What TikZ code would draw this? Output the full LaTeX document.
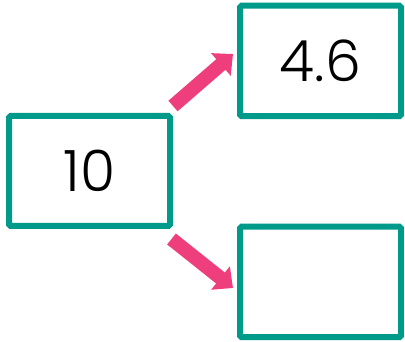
\documentclass[tikz,border=0pt]{standalone}
\usepackage{fontspec}
\setmainfont{Poppins}[UprightFont=* Light]
\usetikzlibrary{arrows.meta}
\definecolor{boxteal}{HTML}{009A8A}
\definecolor{arrowpink}{HTML}{EF3E7C}
\tikzset{
  numbox/.style={draw=boxteal, line width=6pt, rounded corners=1.5pt, outer sep=0pt,
    minimum width=161pt, minimum height=110pt, inner sep=0pt,
    font=\fontsize{57}{60}\selectfont, text=black},
  bigarrow/.style={draw=arrowpink, line width=14pt,
    -{Triangle[width=29pt,length=16pt]}}
}
\begin{document}
\begin{tikzpicture}[x=1pt,y=-1pt]
\useasboundingbox (0,0) rectangle (405,342);
\node[numbox] (a) at (89.5,171) {10};
\node[numbox, minimum height=110.5pt] (b) at (320.5,61) {4.6};
\node[numbox, minimum height=110.5pt] (c) at (320.5,282) {};
\coordinate (t1) at ([shift={(3,-10)}]a.north east);
\coordinate (h1) at ([shift={(-7,-7)}]b.west);
\coordinate (t2) at ([shift={(1.5,13)}]a.south east);
\coordinate (h2) at ([shift={(-7,6)}]c.west);
\draw[bigarrow] (t1) -- (h1);
\draw[bigarrow] (t2) -- (h2);
\end{tikzpicture}
\end{document}
